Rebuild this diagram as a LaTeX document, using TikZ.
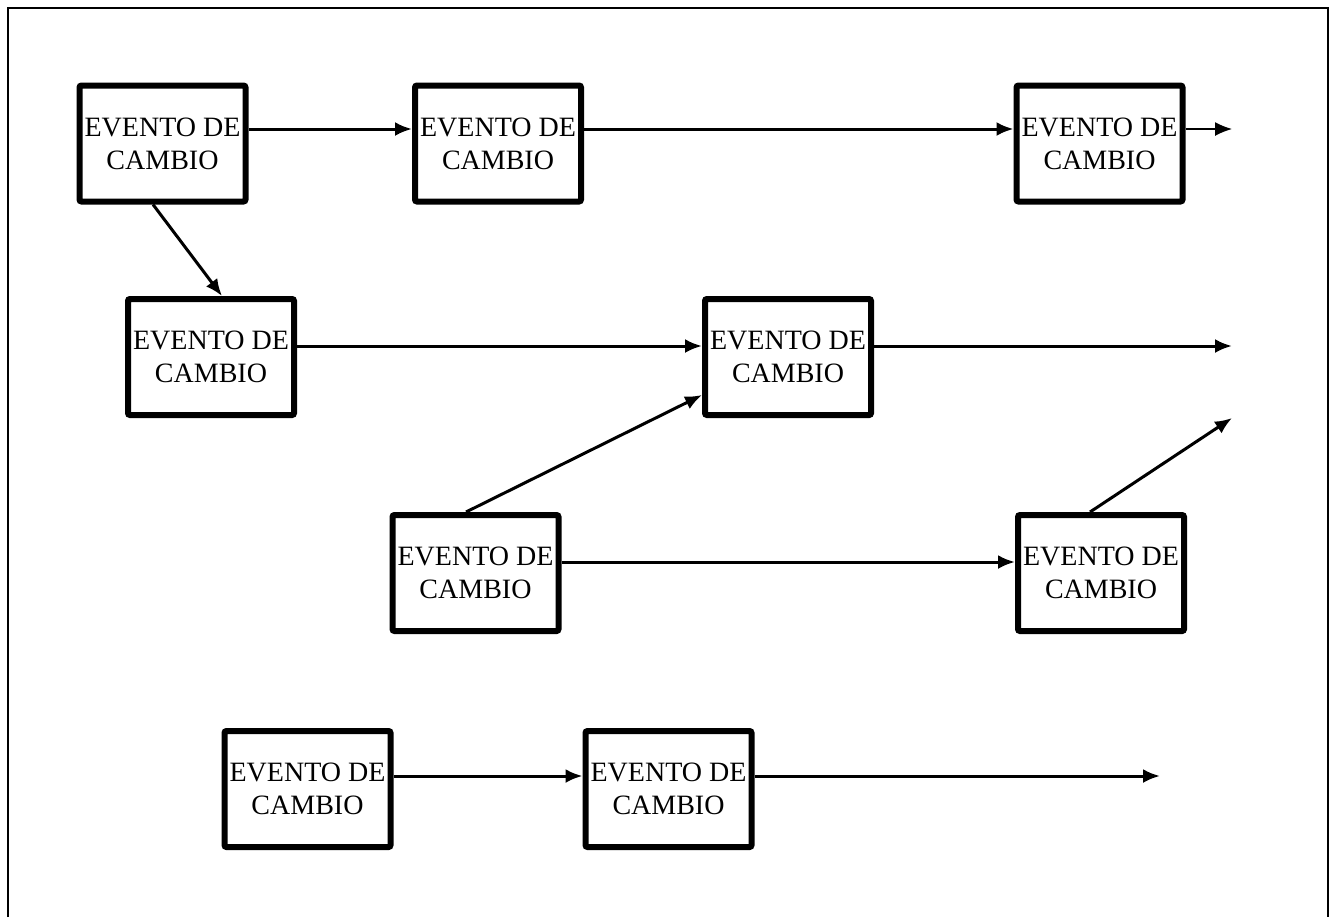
\documentclass[tikz,border=0pt]{standalone}
\usepackage{fontspec}
\setmainfont{Liberation Serif}
\usepackage{tikz}
\usetikzlibrary{arrows.meta}

\tikzset{
  evento/.style={draw, line width=3pt, rounded corners=1pt, align=center,
    minimum width=83pt, minimum height=58pt, inner sep=0pt,
    font=\fontsize{14}{16.5}\selectfont},
  flecha/.style={-{Latex[length=8.5pt,width=7pt]}, line width=1.5pt},
}

\begin{document}
\begin{tikzpicture}[x=0.5pt,y=-0.5pt]
\useasboundingbox (0,0) rectangle (1336,917);
% marco
\draw [line width=0.8pt] (8,917) -- (8,8) -- (1328,8) -- (1328,917);

\node [evento] (b1) at (162.5,143.5) {EVENTO DE\\CAMBIO};
\node [evento] (b2) at (498,143.5) {EVENTO DE\\CAMBIO};
\node [evento] (b3) at (1099.5,143.5) {EVENTO DE\\CAMBIO};
\node [evento] (b4) at (211,357) {EVENTO DE\\CAMBIO};
\node [evento] (b5) at (788,357) {EVENTO DE\\CAMBIO};
\node [evento] (b6) at (475.5,573) {EVENTO DE\\CAMBIO};
\node [evento] (b7) at (1101,573) {EVENTO DE\\CAMBIO};
\node [evento] (b8) at (307.5,789) {EVENTO DE\\CAMBIO};
\node [evento] (b9) at (668.5,789) {EVENTO DE\\CAMBIO};

\coordinate (e1) at (1232,129);
\coordinate (e2) at (1232,346);
\coordinate (e3) at (1232,418);
\coordinate (e4) at (1160,776);

\draw [flecha] ([yshift=7.25pt]b1.east) -- ([yshift=7.25pt]b2.west);
\draw [flecha] ([yshift=7.25pt]b2.east) -- ([yshift=7.25pt]b3.west);
\draw [flecha, line width=0.7pt] ([yshift=7.25pt]b3.east) -- (e1);
\draw [flecha] ([xshift=-4.75pt]b1.south) -- ([xshift=5.5pt]b4.north);
\draw [flecha] ([yshift=5.5pt]b4.east) -- ([yshift=5.5pt]b5.west);
\draw [flecha] ([yshift=5.5pt]b5.east) -- (e2);
\draw [flecha] ([xshift=-4.75pt]b6.north) -- ([yshift=-19pt]b5.west);
\draw [flecha] ([yshift=5.5pt]b6.east) -- ([yshift=5.5pt]b7.west);
\draw [flecha] ([xshift=-5.5pt]b7.north) -- (e3);
\draw [flecha] ([yshift=6.5pt]b8.east) -- ([yshift=6.5pt]b9.west);
\draw [flecha] ([yshift=6.5pt]b9.east) -- (e4);
\end{tikzpicture}
\end{document}
